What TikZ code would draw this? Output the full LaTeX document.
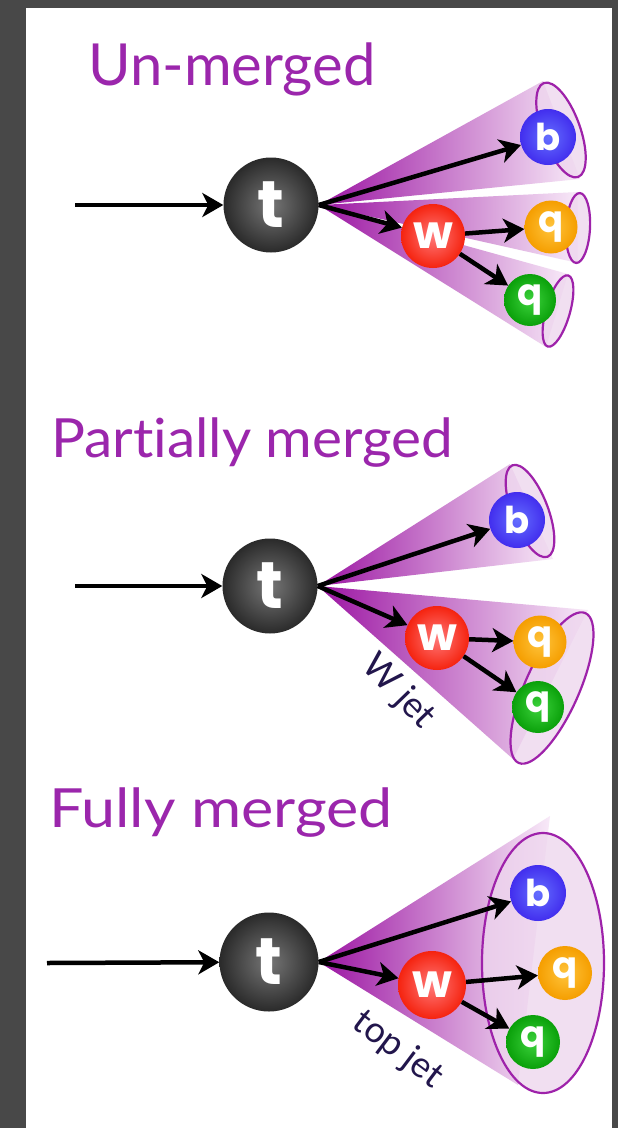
\documentclass[tikz,border=0pt]{standalone}
\usepackage{fontspec}
\usepackage{graphicx}
\setmainfont{Lato}[Ligatures=NoCommon]
\newfontfamily\pfont{Poppins}
\usetikzlibrary{arrows.meta,shapes.geometric}
\definecolor{bggray}{RGB}{72,72,72}
\definecolor{titlepurple}{RGB}{155,38,172}
\definecolor{jetdark}{RGB}{155,20,162}
\definecolor{jetmid}{RGB}{205,120,205}
\definecolor{jetlight}{RGB}{248,234,248}
\definecolor{jetfill}{RGB}{238,214,238}
\definecolor{jetline}{RGB}{158,34,170}
\definecolor{labelcol}{RGB}{34,22,76}
\definecolor{bblue}{RGB}{66,46,238}
\definecolor{bbluein}{RGB}{100,110,255}
\definecolor{wred}{RGB}{245,35,15}
\definecolor{wredin}{RGB}{255,120,120}
\definecolor{qorange}{RGB}{245,158,0}
\definecolor{qorangein}{RGB}{255,196,60}
\definecolor{qgreen}{RGB}{10,160,10}
\definecolor{qgreenin}{RGB}{60,210,60}
\definecolor{tgrayin}{RGB}{118,118,118}
\definecolor{tgrayout}{RGB}{42,42,42}
\tikzset{
  particle/.style={circle, inner sep=0pt, text=white, font=\pfont\bfseries},
  tpart/.style={particle, minimum size=95pt, inner color=tgrayin, outer color=tgrayout, font=\pfont\bfseries\fontsize{66}{66}\selectfont},
  wpart/.style={particle, minimum size=64pt, inner color=wredin, outer color=wred, font=\pfont\bfseries\fontsize{46}{46}\selectfont},
  bpart/.style={particle, minimum size=56pt, inner color=bbluein, outer color=bblue, font=\pfont\bfseries\fontsize{37}{37}\selectfont},
  opart/.style={particle, minimum size=53pt, inner color=qorangein, outer color=qorange, font=\pfont\bfseries\fontsize{37}{37}\selectfont},
  gpart/.style={particle, minimum size=52pt, inner color=qgreenin, outer color=qgreen, font=\pfont\bfseries\fontsize{37}{37}\selectfont},
  jetell/.style={ellipse, inner sep=0pt, draw=jetline, line width=2.2pt, fill=jetfill, fill opacity=0.78},
  cone/.style={left color=jetdark, middle color=jetmid, right color=jetlight},
  arr/.style={line width=4.5pt, -{Stealth[length=21pt,width=24pt,inset=6pt]}},
  titletxt/.style={text=titlepurple, inner sep=0pt},
  jetlabel/.style={text=labelcol, inner sep=0pt, font=\fontsize{36}{36}\selectfont},
}
\begin{document}
\begin{tikzpicture}[x=1pt,y=-1pt]
\fill[bggray] (0,0) rectangle (618,1128);
\fill[white] (26,8) rectangle (612,1128);
\useasboundingbox (0,0) rectangle (618,1128);

% ---------------- Panel 1 : Un-merged ----------------
\node[titletxt, anchor=base west, font=\fontsize{58}{60}\selectfont] (title1) at (88,85) {Un-merged};
\node[tpart] (t1) at (271,205) {t};
\shade[cone] (t1.east) -- (543,81) -- (580,179) -- cycle;
\shade[cone] (t1.east) -- (578,192) -- (578,263) -- cycle;
\shade[cone] (t1.east) -- (568,274) -- (546,347) -- cycle;
\node[jetell, minimum width=38pt, minimum height=100pt, rotate=20] (e1b) at (561,130) {};
\node[jetell, minimum width=24pt, minimum height=70pt, rotate=-3] (e1o) at (578,228) {};
\node[jetell, minimum width=24pt, minimum height=74pt, rotate=-16] (e1g) at (558,311) {};
\node[bpart] (b1) at (548,137) {b};
\node[wpart] (w1) at (433,236) {w};
\node[opart] (o1) at (551,227) {q};
\node[gpart] (g1) at (530,300) {q};
\coordinate (in1) at (75,205);
\draw[arr] (in1) -- (t1);
\draw[arr] (t1.east) -- (b1);
\draw[arr] (t1.east) -- (w1);
\draw[arr] (w1) -- (o1);
\draw[arr] (w1) -- (g1);

% ---------------- Panel 2 : Partially merged ----------------
\node[titletxt, anchor=base west, font=\fontsize{54}{56}\selectfont] (title2) at (51,457) {\scalebox{1.05}[1]{Partially merged}};
\node[tpart] (t2) at (270,586) {t};
\shade[cone] (t2.east) -- (510,464) -- (553,559) -- cycle;
\shade[cone] (t2.east) -- (588,610) -- (513,759) -- cycle;
\node[jetell, minimum width=36pt, minimum height=98pt, rotate=21] (e2b) at (530,511) {};
\node[jetell, minimum width=54pt, minimum height=164pt, rotate=-24] (e2w) at (552,688) {};
\node[bpart] (b2) at (517,520) {b};
\node[wpart] (w2) at (437,638) {w};
\node[opart] (o2) at (540,642) {q};
\node[gpart] (g2) at (538,707) {q};
\coordinate (in2) at (75,586);
\draw[arr] (in2) -- (t2);
\draw[arr] (t2.east) -- (b2);
\draw[arr] (t2.east) -- (w2);
\draw[arr] (w2) -- (o2);
\draw[arr] (w2) -- (g2);
\node[jetlabel, rotate=-46] (lab2) at (398,692) {W jet};

% ---------------- Panel 3 : Fully merged ----------------
\node[titletxt, anchor=base west, font=\fontsize{54}{56}\selectfont] (title3) at (49,827) {\scalebox{1.13}[1]{Fully merged}};
\node[tpart, minimum size=99pt] (t3) at (269,962) {t};
\shade[cone] (t3.east) -- (550,816) -- (518,1085) -- cycle;
\node[jetell, minimum width=122pt, minimum height=260pt] (e3) at (543,963) {};
\node[bpart] (b3) at (538,893) {b};
\node[wpart, minimum size=68pt] (w3) at (432,985) {w};
\node[opart, minimum size=54pt] (o3) at (565,973) {q};
\node[gpart, minimum size=54pt] (g3) at (533,1042) {q};
\coordinate (in3) at (47,963);
\draw[arr] (in3) -- (t3);
\draw[arr] (t3.east) -- (b3);
\draw[arr] (t3.east) -- (w3);
\draw[arr] (w3) -- (o3);
\draw[arr] (w3) -- (g3);
\node[jetlabel, rotate=-37] (lab3) at (398,1050) {top jet};
\end{tikzpicture}
\end{document}
